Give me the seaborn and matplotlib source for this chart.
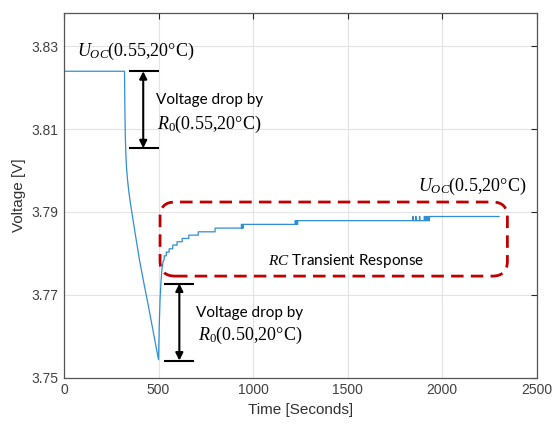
import matplotlib
matplotlib.use("Agg")
import matplotlib.pyplot as plt
import pandas as pd
import seaborn as sns
from matplotlib.patches import FancyBboxPatch

# Terminal voltage during a discharge pulse followed by a rest period
time_s = [
    0, 320,
    322, 324, 327, 331, 336, 342, 350, 375, 400, 425, 450, 475, 500,
    504, 508, 513, 518, 524,
    530, 530, 541, 541, 556, 556, 575, 575, 598, 598, 625, 625, 660, 660,
    710, 710, 799, 799,
    938, 938, 940, 940, 943, 943, 945, 945, 948, 948,
    1222, 1222, 1225, 1225, 1229, 1229, 1232, 1232, 1236, 1236,
    1845, 1845, 1847, 1847, 1860, 1860, 1862, 1862, 1880, 1880, 1882, 1882,
    1905, 1905, 1908, 1908, 1912, 1912, 1915, 1915, 1919, 1919, 1922, 1922,
    1926, 1926, 1929, 1929, 1933, 1933,
    2302,
]
voltage_v = [
    3.8240, 3.8240,
    3.8150, 3.8090, 3.8040, 3.8005, 3.7978, 3.7952, 3.7925, 3.7852, 3.7782,
    3.7722, 3.7664, 3.7603, 3.7543,
    3.7630, 3.7688, 3.7732, 3.7762, 3.7780,
    3.7786, 3.7794, 3.7794, 3.7803, 3.7803, 3.7811, 3.7811, 3.7820, 3.7820,
    3.7828, 3.7828, 3.7836, 3.7836, 3.7844,
    3.7844, 3.7852, 3.7852, 3.7861,
    3.7861, 3.7870, 3.7870, 3.7861, 3.7861, 3.7870, 3.7870, 3.7861, 3.7861, 3.7870,
    3.7870, 3.7879, 3.7879, 3.7870, 3.7870, 3.7879, 3.7879, 3.7870, 3.7870, 3.7879,
    3.7879, 3.7889, 3.7889, 3.7879, 3.7879, 3.7889, 3.7889, 3.7879, 3.7879, 3.7889,
    3.7889, 3.7879,
    3.7879, 3.7889, 3.7889, 3.7879, 3.7879, 3.7889, 3.7889, 3.7879, 3.7879, 3.7889,
    3.7889, 3.7879, 3.7879, 3.7889, 3.7889, 3.7879, 3.7879, 3.7889,
    3.7889,
]

# Open-circuit voltages and ohmic drops marked on the plot
uoc_start = 3.8240
ohmic_end_1 = 3.8054
uoc_min = 3.7541
ohmic_end_2 = 3.7727

x_ticks = [0, 500, 1000, 1500, 2000, 2500]
y_ticks = [3.75, 3.77, 3.79, 3.81, 3.83]

sns.set_theme(style="white")
plt.rcParams["font.family"] = ["Liberation Sans", "DejaVu Sans"]
plt.rcParams["mathtext.fontset"] = "custom"
plt.rcParams["mathtext.rm"] = "Liberation Serif"
plt.rcParams["mathtext.it"] = "Liberation Serif:italic"

axis_color = "#262626"
fig = plt.figure(figsize=(5.52, 4.28), dpi=100)
ax = fig.add_axes([64 / 552, 1 - 377.5 / 428, 472.7 / 552, 364.2 / 428])

df = pd.DataFrame({"time": time_s, "voltage": voltage_v})
sns.lineplot(data=df, x="time", y="voltage", sort=False, estimator=None,
             color="#2F8FD6", linewidth=0.9, ax=ax)

ax.set_xlim(0, 2500)
ax.set_ylim(3.75, 3.838)
ax.set_xticks(x_ticks)
ax.set_yticks(y_ticks)
ax.set_xticklabels([str(v) for v in x_ticks])
ax.set_yticklabels([f"{v:.2f}" for v in y_ticks])
ax.grid(True, color="#e3e3e3", linewidth=0.8)
ax.set_axisbelow(True)
ax.tick_params(direction="in", length=4, width=0.8, colors=axis_color,
               labelsize=10, top=True, right=True, pad=4,
               labelcolor="#404040")
for sp in ax.spines.values():
    sp.set_color("#555555")
    sp.set_linewidth(0.9)
ax.set_xlabel("Time [Seconds]", fontsize=11, color="#303030", labelpad=4)
ax.set_ylabel("Voltage [V]", fontsize=11, color="#303030", labelpad=4)

# Ohmic drop markers: bars and double arrows
bar_kw = dict(color="black", linewidth=1.5)
arrow_kw = dict(arrowstyle="<|-|>", color="black", lw=1.5,
                shrinkA=0, shrinkB=0, mutation_scale=11)
ax.hlines([uoc_start, ohmic_end_1], 345, 504, **bar_kw)
ax.annotate("", xy=(419, ohmic_end_1), xytext=(419, uoc_start), arrowprops=arrow_kw)
ax.hlines([ohmic_end_2, uoc_min], 530, 689, **bar_kw)
ax.annotate("", xy=(610, uoc_min), xytext=(610, ohmic_end_2), arrowprops=arrow_kw)

sans = ["Lato", "DejaVu Sans"]
serif = ["Liberation Serif", "DejaVu Serif"]
ax.text(772, 3.8170, "Voltage drop by", family=sans, fontsize=11,
        ha="center", va="center", color="black")
ax.text(767, 3.8112, r"$R_0$(0.55,20°C)", family=serif, fontsize=13,
        ha="center", va="center", color="black")
ax.text(984, 3.7657, "Voltage drop by", family=sans, fontsize=11,
        ha="center", va="center", color="black")
ax.text(984, 3.7602, r"$R_0$(0.50,20°C)", family=serif, fontsize=13,
        ha="center", va="center", color="black")

ax.text(69, 3.8278, r"$U_{OC}$(0.55,20°C)", family=serif, fontsize=13,
        ha="left", va="baseline", color="black")
ax.text(2447, 3.7951, r"$U_{OC}$(0.5,20°C)", family=serif, fontsize=13,
        ha="right", va="baseline", color="black")

# Dashed rounded frame around the relaxation part
x0, x1 = 508, 2345
y0, y1 = 3.7745, 3.7924
aspect = 0.0036 / 79
frame = FancyBboxPatch((x0, y0), x1 - x0, y1 - y0,
                       boxstyle="round,pad=0,rounding_size=79",
                       mutation_aspect=aspect, fill=False,
                       edgecolor="#C00000", linewidth=2.0,
                       linestyle=(0, (4.5, 2.6)), zorder=3)
ax.add_patch(frame)
ax.text(1491, 3.7781, r"$RC$ Transient Response", family=sans, fontsize=11,
        ha="center", va="center", color="black")

fig.savefig("out.png", dpi=100)
